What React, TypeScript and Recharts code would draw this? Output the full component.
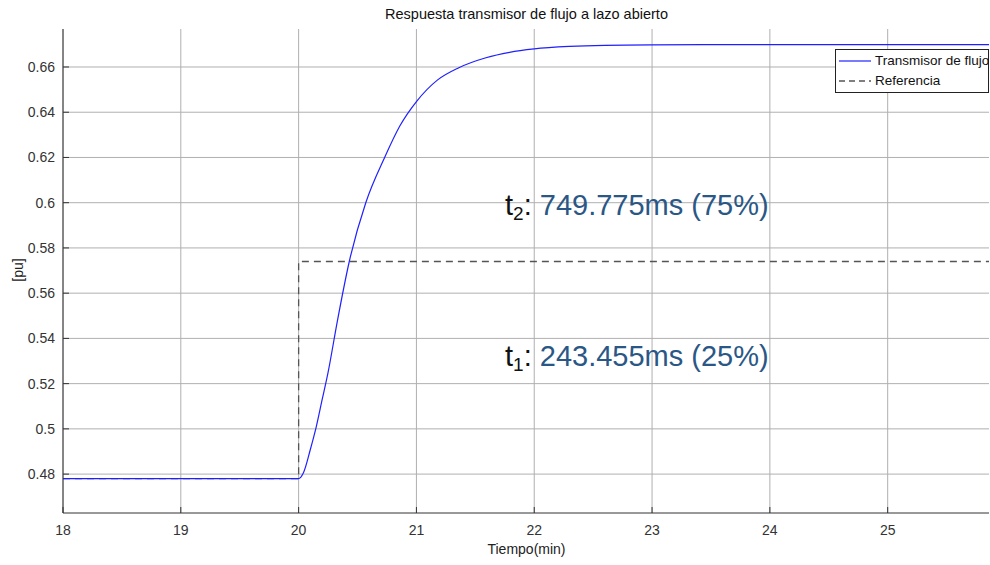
import { CartesianGrid, Line, LineChart, XAxis, YAxis } from 'recharts'

// tiempo (min) y respuesta (pu)
const flowTime = [18, 19, 20, 20.04, 20.1, 20.15, 20.2, 20.25, 20.33, 20.43, 20.57, 20.73, 20.86, 21.0, 21.18, 21.36, 21.59, 21.79, 22.0, 22.3, 22.6, 23.0, 24.0, 25.0, 25.86]
const flowValue = [0.478, 0.478, 0.478, 0.4805, 0.491, 0.501, 0.513, 0.525, 0.548, 0.574, 0.6, 0.62, 0.634, 0.6447, 0.6543, 0.6597, 0.6641, 0.6665, 0.668, 0.6691, 0.6696, 0.6698, 0.6699, 0.6699, 0.6699]

const refTime = [18, 20, 25.86]
const refValue = [0.478, 0.574, 0.574]

const xTicks = [18, 19, 20, 21, 22, 23, 24, 25]
const yTicks = [0.48, 0.5, 0.52, 0.54, 0.56, 0.58, 0.6, 0.62, 0.64, 0.66]

const flowData = flowTime.map((t, i) => ({ t, v: flowValue[i] }))
const refData = refTime.map((t, i) => ({ t, v: refValue[i] }))

const font = '"Liberation Sans", Arial, sans-serif'
const tickStyle = { fill: '#333', fontSize: 14, fontFamily: font }

function Annotation({ top, sub, text }: { top: number; sub: string; text: string }) {
  return (
    <div style={{ position: 'absolute', left: 505, top, fontFamily: font, fontSize: 29, whiteSpace: 'nowrap', lineHeight: 1 }}>
      <span style={{ color: '#111' }}>
        t<sub style={{ fontSize: 19, verticalAlign: -5 }}>{sub}</sub>:
      </span>
      <span style={{ color: '#2a5785' }}> {text}</span>
    </div>
  )
}

export default function App() {
  return (
    <div style={{ position: 'absolute', left: 0, top: 0, width: 990, height: 565, background: '#fff', fontFamily: font }}>
      <LineChart width={990} height={565} margin={{ top: 29, right: 1, left: 0, bottom: 0 }}>
        <CartesianGrid stroke="#b0b0b0" verticalValues={xTicks} horizontalValues={yTicks} />
        <XAxis
          type="number"
          dataKey="t"
          domain={[18, 25.86]}
          ticks={xTicks}
          allowDuplicatedCategory={false}
          height={52}
          tickSize={-6}
          tickMargin={18}
          tick={tickStyle}
          stroke="#333"
        />
        <XAxis xAxisId="top" type="number" dataKey="t" orientation="top" domain={[18, 25.86]} ticks={xTicks} height={0} tick={false} tickSize={-6} stroke="#333" />
        <YAxis
          type="number"
          domain={[0.4628, 0.6768]}
          ticks={yTicks}
          width={63}
          tickSize={-6}
          tickMargin={14}
          tick={tickStyle}
          stroke="#333"
          tickFormatter={(v: number) => String(Number(v.toFixed(2)))}
        />
        <YAxis yAxisId="right" orientation="right" type="number" domain={[0.4628, 0.6768]} ticks={yTicks} width={0} tick={false} tickSize={-6} stroke="#333" />
        <Line data={refData} dataKey="v" type="stepAfter" stroke="#555" strokeWidth={1.3} strokeDasharray="7 5" dot={false} isAnimationActive={false} />
        <Line data={flowData} dataKey="v" type="monotone" stroke="#2020ff" strokeWidth={1.2} dot={false} isAnimationActive={false} />
      </LineChart>

      <div style={{ position: 'absolute', top: 6, left: 0, width: 990, paddingLeft: 63, boxSizing: 'border-box', textAlign: 'center', fontSize: 14.5, color: '#111' }}>
        Respuesta transmisor de flujo a lazo abierto
      </div>
      <div style={{ position: 'absolute', top: 541, left: 0, width: 990, paddingLeft: 63, boxSizing: 'border-box', textAlign: 'center', fontSize: 14, color: '#222' }}>
        Tiempo(min)
      </div>
      <div style={{ position: 'absolute', left: 18, top: 270, transform: 'translate(-50%, -50%) rotate(-90deg)', fontSize: 14, color: '#222' }}>
        [pu]
      </div>

      <div style={{ position: 'absolute', left: 835, top: 49, width: 154, height: 44, boxSizing: 'border-box', border: '1px solid #222', background: '#fff', fontSize: 13.5, color: '#111' }}>
        <div style={{ position: 'absolute', left: 2, top: 3, display: 'flex', alignItems: 'center', whiteSpace: 'nowrap' }}>
          <svg width={34} height={14}>
            <line x1={1} y1={7} x2={33} y2={7} stroke="#2020ff" strokeWidth={1.2} />
          </svg>
          <span style={{ marginLeft: 3 }}>Transmisor de flujo</span>
        </div>
        <div style={{ position: 'absolute', left: 2, top: 23, display: 'flex', alignItems: 'center', whiteSpace: 'nowrap' }}>
          <svg width={34} height={14}>
            <line x1={1} y1={7} x2={33} y2={7} stroke="#555" strokeWidth={1.3} strokeDasharray="6 4" />
          </svg>
          <span style={{ marginLeft: 3 }}>Referencia</span>
        </div>
      </div>

      <Annotation top={191} sub="2" text="749.775ms (75%)" />
      <Annotation top={342} sub="1" text="243.455ms (25%)" />
    </div>
  )
}
